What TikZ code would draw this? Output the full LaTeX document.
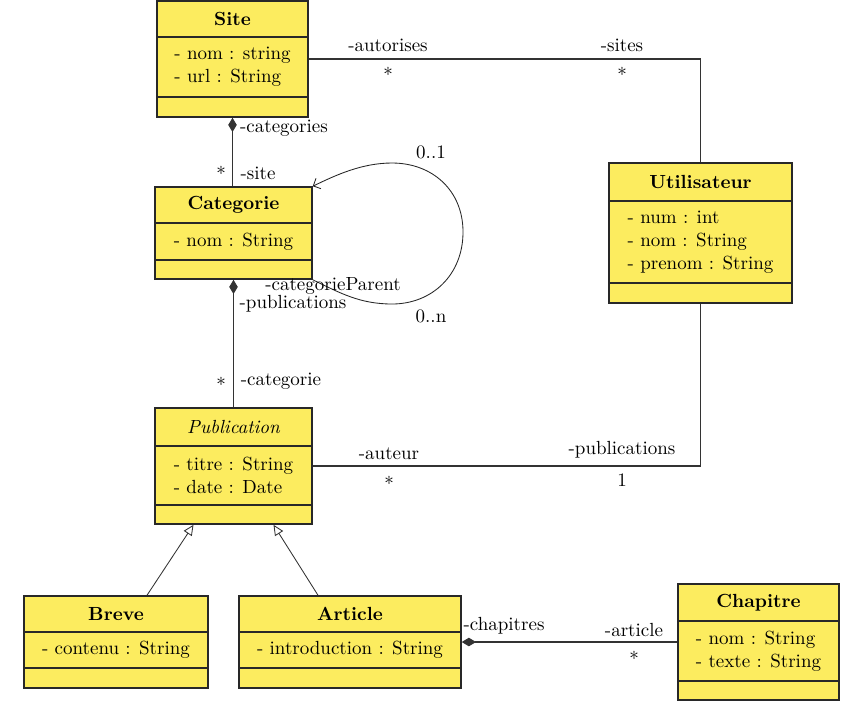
\documentclass[tikz,border=0pt]{standalone}
\usetikzlibrary{arrows.meta,fit,calc}
\definecolor{umlyellow}{RGB}{252,236,95}
\definecolor{umlborder}{RGB}{40,40,40}
\tikzset{
 classbox/.style={draw=umlborder, fill=umlyellow, line width=0.8pt, inner sep=0pt},
 divider/.style={draw=umlborder, line width=0.7pt},
 classtitle/.style={inner sep=0pt, font=\bfseries},
 attrs/.style={inner sep=0pt, align=left},
 conn/.style={draw=black!80, line width=0.55pt},
 lbl/.style={inner sep=0pt},
 compo/.style={{Diamond[length=7.5pt,width=4.5pt]}-},
 inherit/.style={-{Triangle[open,length=5.5pt,width=5pt,fill=white]}},
}
\newcommand{\umlclass}[9]{%
 \node[classbox, fit={(#2,#3) (#4,#5)}] (#1) {};
 \draw[divider] (#2,#6) -- (#4,#6);
 \draw[divider] (#2,#7) -- (#4,#7);
 \node[classtitle] (#1-title) at ({(#2+#4)/2},{(#3+#6)/2}) {#8};
 \node[attrs] (#1-attrs) at ({(#2+#4)/2},{(#6+#7)/2}) {#9};
}
\begin{document}
\begin{tikzpicture}[x=0.5262pt,y=-0.5262pt]
\useasboundingbox (0,0) rectangle (868,715);

% classes
\umlclass{site}{157}{1}{308}{117}{37}{97}{Site}{- nom : string\\- url : String}
\umlclass{cat}{155}{187}{312}{279}{223}{260}{Categorie}{- nom : String}
\umlclass{pub}{155}{408}{312}{524}{446}{505}{\mdseries\itshape Publication}{- titre : String\\- date : Date}
\umlclass{util}{609}{163}{792}{303}{201}{283}{Utilisateur}{- num : int\\- nom : String\\- prenom : String}
\umlclass{breve}{24}{596}{208}{688}{632}{668}{Breve}{- contenu : String}
\umlclass{art}{239}{596}{461}{688}{632}{668}{Article}{- introduction : String}
\umlclass{chap}{678}{584}{839}{700}{621}{681}{Chapitre}{- nom : String\\- texte : String}

% Site -- Utilisateur
\draw[conn] (site.east) -| (util.north);
\node[lbl] (l1) at (388,45) {-autorises};
\node[lbl] (l2) at (388,74) {*};
\node[lbl] (l3) at (622,45) {-sites};
\node[lbl] (l4) at (622,74) {*};

% Site <>-- Categorie
\draw[conn, compo] (site.south) -- (site.south |- cat.north);
\node[lbl] (l5) at (284,128) {-categories};
\node[lbl] (l6) at (221,173) {*};
\node[lbl] (l7) at (258,173) {-site};

% self loop
\draw[black!85, line width=0.45pt, -{Straight Barb[length=3pt,width=6pt]}]
  (cat.south east) .. controls (340,293) and (360,304) .. (392,304)
  .. controls (432,304) and (463,275) .. (463,232)
  .. controls (463,190) and (432,163) .. (392,163)
  .. controls (362,163) and (336,175) .. (cat.north east);
\node[lbl] (l8) at (431,152) {0..1};
\node[lbl] (l9) at (333,286) {-categorieParent};
\node[lbl] (l10) at (431,316) {0..n};

% Categorie <>-- Publication
\draw[conn, compo] (cat.south) -- (cat.south |- pub.north);
\node[lbl] (l11) at (293,304) {-publications};
\node[lbl] (l12) at (221,384) {*};
\node[lbl] (l13) at (281,381) {-categorie};

% Publication -- Utilisateur
\draw[conn] (pub.east) -| (util.south);
\node[lbl] (l14) at (389,454) {-auteur};
\node[lbl] (l15) at (389,483) {*};
\node[lbl] (l16) at (622,450) {-publications};
\node[lbl] (l17) at (622,480) {1};

% inheritance
\draw[conn, line width=0.45pt, inherit] ($(breve.north)+(31,0)$) -- ($(pub.south)+(-40,0)$);
\draw[conn, line width=0.45pt, inherit] ($(art.north)+(-32,0)$) -- ($(pub.south)+(40,0)$);

% Article <>-- Chapitre
\draw[conn, compo] (art.east) -- (chap.west);
\node[lbl] (l18) at (504,626) {-chapitres};
\node[lbl] (l19) at (634,630) {-article};
\node[lbl] (l20) at (634,658) {*};
\end{tikzpicture}
\end{document}
